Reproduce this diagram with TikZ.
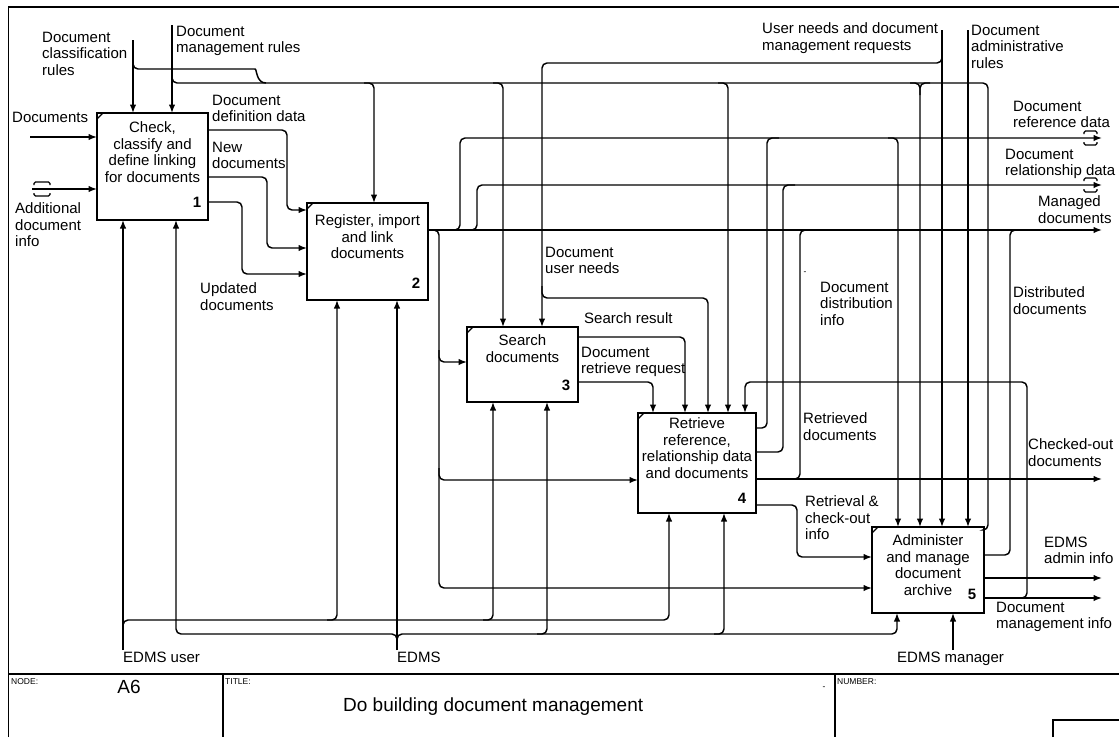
\documentclass[tikz,border=0pt]{standalone}
\usepackage{fontspec}
\setmainfont{Liberation Sans}
\usetikzlibrary{arrows.meta}
\newcommand\lbfont{\fontsize{15pt}{16.5pt}\selectfont}
\newcommand\ttlfont{\fontsize{19pt}{21pt}\selectfont}
\newcommand\smallkeyfont{\fontsize{8.5pt}{9pt}\selectfont}

\begin{document}
\begin{tikzpicture}[x=1pt,y=-1pt,
  box/.style={draw, line width=1.8pt, inner sep=0pt, outer sep=0pt},
  flow/.style={line width=1.45pt, rounded corners=5pt},
  arr/.style={flow, -{Latex[length=8.5pt,width=6.5pt]}},
  lbl/.style={font=\lbfont, align=left, anchor=north west, inner sep=0pt},
  btxt/.style={font=\lbfont, align=center, anchor=north, inner sep=0pt},
  num/.style={font=\lbfont\bfseries, inner sep=0pt},
  tun/.style={line width=1.3pt, rounded corners=1.5pt},
  frm/.style={line width=1.6pt},
  key/.style={font=\smallkeyfont, anchor=north west, inner sep=0pt}
]
\useasboundingbox (0,0) rectangle (1119,737);

% sheet frame and title block
\draw[frm] (8.5,737) -- (8.5,7) -- (1119,7);
\draw[frm] (8.5,674) -- (1119,674);
\draw[frm] (223,674) -- (223,737);
\draw[frm] (835,674) -- (835,737);
\draw[frm] (1053,737) -- (1053,720) -- (1119,720);

% activity boxes
\node[box, minimum width=111pt, minimum height=107pt] (b1) at (152.5,166.5) {};
\node[box, minimum width=121pt, minimum height=97pt]  (b2) at (367.5,251.5) {};
\node[box, minimum width=111pt, minimum height=75pt]  (b3) at (522.5,364.5) {};
\node[box, minimum width=118pt, minimum height=100pt] (b4) at (697,463) {};
\node[box, minimum width=112pt, minimum height=86pt]  (b5) at (928,570) {};
\foreach \b in {b1,b2,b3,b4,b5}
  \draw[line width=1.1pt] ([yshift=-6pt]\b.north west) -- ([xshift=6pt]\b.north west);

\node[btxt] (t1) at (152.5,121.5) {Check,\\classify and\\define linking\\for documents};
\node[btxt] (t2) at (367.5,214.5) {Register, import\\and link\\documents};
\node[btxt] (t3) at (522.5,334.5) {Search\\documents};
\node[btxt] (t4) at (697,417.5) {Retrieve\\reference,\\relationship data\\and documents};
\node[btxt] (t5) at (928,534.5) {Administer\\and manage\\document\\archive};
\node[num] (n1) at (197,202) {1};
\node[num] (n2) at (416,283) {2};
\node[num] (n3) at (566,385) {3};
\node[num] (n4) at (742,498) {4};
\node[num] (n5) at (972,594) {5};

% inputs of box 1
\coordinate (srcDocs) at (30,137);
\draw[arr] (srcDocs) -- (b1.west |- srcDocs);
\coordinate (srcAdd) at (32,189);
\draw[arr] (srcAdd) -- (b1.west |- srcAdd);
\draw[tun] (34,185) -- (34,182) -- (50,182) -- (50,185);
\draw[tun] (34,193) -- (34,196) -- (50,196) -- (50,193);

% controls from the top
\coordinate (srcCls) at (133,40);
\coordinate (srcMgr) at (172,25);
\draw[arr] (srcCls) -- (b1.north -| srcCls);
\draw[arr] (srcMgr) -- (b1.north -| srcMgr);
\draw[flow] (133,58) -- (133,69) -- (250,69) .. controls (257,69) and (256,83) .. (266,83);
\draw[flow] (172,72) -- (172,83) -- (988,83) -- (988,530) -- (b5.east |- 0,530);
\draw[arr] (364,83) -- (374,83) -- (b2.north -| 374,0);
\draw[arr] (493,83) -- (503,83) -- (b3.north -| 503,0);
\draw[arr] (718,83) -- (728,83) -- (b4.north -| 728,0);
\draw[arr] (910,83) -- (920,83) -- (b5.north -| 920,0);
\draw[flow] (930,83) -- (920,83) -- (920,95);

\coordinate (srcUsr) at (942,30);
\draw[arr] (srcUsr) -- (b5.north -| srcUsr);
\draw[arr] (942,50) -- (942,63) -- (542,63) -- (b3.north -| 542,0);
\draw[arr] (542,286) -- (542,298) -- (708,298) -- (b4.north -| 708,0);
\coordinate (srcAdm) at (968,30);
\draw[arr] (srcAdm) -- (b5.north -| srcAdm);

% box 1 outputs
\draw[arr] (b1.east |- 0,130) -- (287,130) -- (287,210) -- (b2.west |- 0,210);
\draw[arr] (b1.east |- 0,177) -- (267,177) -- (267,248) -- (b2.west |- 0,248);
\draw[arr] (b1.east |- 0,202) -- (242,202) -- (242,274) -- (b2.west |- 0,274);

% box 2 outputs
\coordinate (outMan) at (1102,230);
\coordinate (outRef) at (1102,138);
\coordinate (outRel) at (1102,185);
\draw[arr] (b2.east |- outMan) -- (outMan);
\draw[arr] (450,230) -- (460,230) -- (460,138) -- (outRef);
\draw[arr] (467,230) -- (477,230) -- (477,185) -- (outRel);
\draw[tun] (1084,134) -- (1084,131) -- (1097,131) -- (1097,134);
\draw[tun] (1084,142) -- (1084,145) -- (1097,145) -- (1097,142);
\draw[tun] (1084,181) -- (1084,178) -- (1097,178) -- (1097,181);
\draw[tun] (1084,189) -- (1084,192) -- (1097,192) -- (1097,189);
\draw[arr] (b2.east |- 0,230) -- (439,230) -- (439,588) -- (b5.west |- 0,588);
\draw[arr] (439,350) -- (439,362) -- (b3.west |- 0,362);
\draw[arr] (439,468) -- (439,480) -- (b4.west |- 0,480);

% box 3 outputs
\draw[arr] (b3.east |- 0,337) -- (685,337) -- (b4.north -| 685,0);
\draw[arr] (b3.east |- 0,382) -- (653,382) -- (b4.north -| 653,0);

% box 4 outputs
\draw[flow] (b4.east |- 0,428) -- (767,428) -- (767,138) -- (779,138);
\draw[flow] (b4.east |- 0,452) -- (783,452) -- (783,185) -- (795,185);
\coordinate (outChk) at (1102,479);
\draw[arr] (b4.east |- outChk) -- (outChk);
\draw[flow] (790,479) -- (800,479) -- (800,230) -- (812,230);
\draw[arr] (b4.east |- 0,505) -- (797,505) -- (797,557) -- (b5.west |- 0,557);
\draw[arr] (888,138) -- (898,138) -- (b5.north -| 898,0);

% box 5 outputs
\draw[flow] (b5.east |- 0,555) -- (1010,555) -- (1010,230) -- (1022,230);
\coordinate (outAdm) at (1102,578);
\coordinate (outDmi) at (1102,598);
\draw[arr] (b5.east |- outAdm) -- (outAdm);
\draw[arr] (b5.east |- outDmi) -- (outDmi);
\draw[arr] (1017,598) -- (1027,598) -- (1027,382) -- (745,382) -- (b4.north -| 745,0);

% mechanisms
\coordinate (srcUser) at (123,650);
\draw[arr] (srcUser) -- (b1.south -| srcUser);
\draw[arr] (123,634) -- (123,620) -- (669,620) -- (b4.south -| 669,0);
\draw[arr] (327,620) -- (337,620) -- (b2.south -| 337,0);
\draw[arr] (483,620) -- (493,620) -- (b3.south -| 493,0);
\coordinate (srcEdms) at (397,650);
\draw[arr] (srcEdms) -- (b2.south -| srcEdms);
\draw[arr] (397,645) -- (397,634) -- (176,634) -- (b1.south -| 176,0);
\draw[arr] (397,645) -- (397,634) -- (897,634) -- (b5.south -| 897,0);
\draw[arr] (537,634) -- (547,634) -- (b3.south -| 547,0);
\draw[arr] (714,634) -- (724,634) -- (b4.south -| 724,0);
\coordinate (srcMgrE) at (953,650);
\draw[arr] (srcMgrE) -- (b5.south -| srcMgrE);

% arrow labels
\node[lbl] (lDocs) at (12,111.5) {Documents};
\node[lbl] (lAdd) at (15,202.5) {Additional\\document\\info};
\node[lbl] (lCls) at (42,31.5) {Document\\classification\\rules};
\node[lbl] (lMgr) at (176,25.5) {Document\\management rules};
\node[lbl] (lDef) at (212,94.5) {Document\\definition data};
\node[lbl] (lNew) at (212,141.5) {New\\documents};
\node[lbl] (lUpd) at (200,282.5) {Updated\\documents};
\node[lbl] (lUsr) at (762,22.5) {User needs and document\\management requests};
\node[lbl] (lAdm) at (971,24.5) {Document\\administrative\\rules};
\node[lbl] (lRef) at (1013,100.5) {Document\\reference data};
\node[lbl] (lRel) at (1005,148.5) {Document\\relationship data};
\node[lbl] (lMan) at (1038,195.5) {Managed\\documents};
\node[lbl] (lNeed) at (545,246.5) {Document\\user needs};
\node[lbl] (lDist) at (820,281.5) {Document\\distribution\\info};
\node[lbl] (lDistd) at (1013,286.5) {Distributed\\documents};
\node[lbl] (lRes) at (584,312.5) {Search result};
\node[lbl] (lReq) at (581,346.5) {Document\\retrieve request};
\node[lbl] (lRet) at (803,412.5) {Retrieved\\documents};
\node[lbl] (lChk) at (1028,438.5) {Checked-out\\documents};
\node[lbl] (lRco) at (805,495.5) {Retrieval \&\\check-out\\info};
\node[lbl] (lEai) at (1044,536.5) {EDMS\\admin info};
\node[lbl] (lDmi) at (996,601.5) {Document\\management info};
\node[lbl] (lUser) at (123,651.5) {EDMS user};
\node[lbl] (lEdms) at (397,651.5) {EDMS};
\node[lbl] (lMgrE) at (897,651.5) {EDMS manager};

% title block texts
\node[key] (kNode) at (11,678) {NODE:};
\node[font=\ttlfont, inner sep=0pt] (vNode) at (129,687) {A6};
\node[key] (kTitle) at (225,678) {TITLE:};
\node[font=\ttlfont, anchor=north west, inner sep=0pt] (vTitle) at (343,698) {Do building document management};
\node[key] (kNum) at (837,678) {NUMBER:};
\node[font=\smallkeyfont, inner sep=0pt] (dashA) at (824,688) {-};
\node[font=\smallkeyfont, inner sep=0pt] (dashB) at (805,273) {-};
\end{tikzpicture}
\end{document}
